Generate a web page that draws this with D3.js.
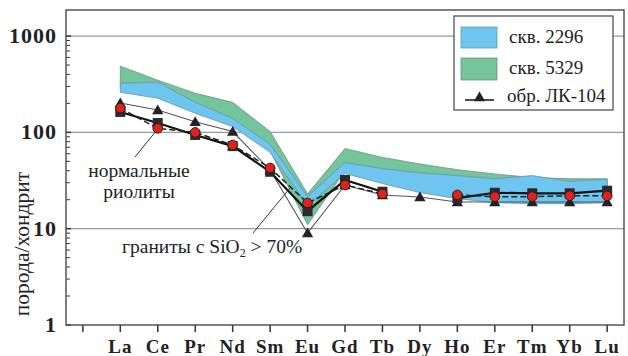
<!DOCTYPE html>
<html lang="ru">
<head>
<meta charset="utf-8">
<title>REE</title>
<script src="https://d3js.org/d3.v7.min.js"></script>
<style>
  body { margin: 0; background: #fff; }
  text { font-family: "Liberation Serif", "Times New Roman", serif; fill: #222; }
  .tick-lbl { font-weight: bold; }
</style>
</head>
<body>
<svg width="628" height="356"></svg>
<script>
// elements (chondrite-normalised)
var elements = ["La","Ce","Pr","Nd","Sm","Eu","Gd","Tb","Dy","Ho","Er","Tm","Yb","Lu"];
var yTicks = [1, 10, 100, 1000];

// bands
var band2296Hi = [324, 333, 205, 140, 75, 21.5, 48.7, 42, 38, 35.6, 33, 35.6, 31, 32.5];
var band2296Lo = [261, 226, 158, 115, 62, 17.4, 37.4, 29.4, 23.7, 20.5, 18.6, 18.2, 18.2, 18.6];
var band5329Hi = [487, 348, 255, 205, 102, 23, 68, 55, 47, 41, 37, 34, 33, 33];
var band5329Lo = [300, 290, 190, 130, 64, 11, 40, 33, 28, 25, 23, 22, 22, 22];

// samples
var lk104   = [202, 171, 129, 102, 40.7, 9, 28.4, 22.4, 21.3, 18.9, 18.9, 18.9, 18.9, 18.9];
var granite = [163, 125, 94, 72, 39, 15.2, 32, 24.2, null, 20.8, 23.6, 23.3, 23.3, 24.8];
var rhyol   = [178, 110, 100, 74, 42.7, 18.5, 28.4, 23, null, 22.4, 21.5, 21.5, 22, 21.9];

var svg = d3.select("svg");
var pLeft = 66, pRight = 624, pTop = 10, pBottom = 325;

var x = d3.scaleLinear().domain([-0.45, 14.45]).range([pLeft, pRight]);
var y = d3.scaleLog().domain([1, 1865]).range([pBottom, pTop]);

// grid
svg.append("g").selectAll("line")
  .data([10, 100, 1000])
  .enter().append("line")
    .attr("x1", pLeft).attr("x2", pRight)
    .attr("y1", d => y(d)).attr("y2", d => y(d))
    .attr("stroke", "#9a9a9a").attr("stroke-width", 1.2);

// minor ticks inside
var minors = [];
[1, 10, 100, 1000].forEach(function (d) {
  for (var k = 2; k <= 9; k++) if (d * k < 1865) minors.push(d * k);
});
svg.append("g").selectAll("line")
  .data(minors)
  .enter().append("line")
    .attr("x1", pLeft).attr("x2", pLeft + 4)
    .attr("y1", d => y(d)).attr("y2", d => y(d))
    .attr("stroke", "#333").attr("stroke-width", 1);
svg.append("g").selectAll("line")
  .data(yTicks)
  .enter().append("line")
    .attr("x1", pLeft).attr("x2", pLeft + 5)
    .attr("y1", d => y(d)).attr("y2", d => y(d))
    .attr("stroke", "#333").attr("stroke-width", 1.5);

// bands
function bandPath(lo, hi) {
  return d3.area()
    .x((d, i) => x(i + 1))
    .y0((d, i) => y(lo[i]))
    .y1((d, i) => y(hi[i]))(elements);
}
svg.append("path")
  .attr("d", bandPath(band5329Lo, band5329Hi))
  .attr("fill", "#74c49c").attr("stroke", "#6f8f80").attr("stroke-width", 0.8);
svg.append("path")
  .attr("d", bandPath(band2296Lo, band2296Hi))
  .attr("fill", "#6ec6f0").attr("stroke", "#6a93a8").attr("stroke-width", 0.8);

// sample lines
var line = d3.line()
  .defined(d => d != null)
  .x((d, i) => x(i + 1))
  .y(d => y(d));

svg.append("path").datum(lk104).attr("d", line)
  .attr("fill", "none").attr("stroke", "#555").attr("stroke-width", 1.1);
svg.append("path").datum(granite).attr("d", line)
  .attr("fill", "none").attr("stroke", "#111").attr("stroke-width", 2.2);
svg.append("path").datum(rhyol).attr("d", line)
  .attr("fill", "none").attr("stroke", "#222").attr("stroke-width", 1.5)
  .attr("stroke-dasharray", "6,3");

// markers
var tri = d3.symbol().type(d3.symbolTriangle).size(55);
svg.append("g").selectAll("path")
  .data(lk104)
  .enter().append("path")
    .attr("d", tri)
    .attr("transform", (d, i) => "translate(" + x(i + 1) + "," + (y(d) + 1) + ")")
    .attr("fill", "#222");

svg.append("g").selectAll("rect")
  .data(granite.map((v, i) => [i, v]).filter(d => d[1] != null))
  .enter().append("rect")
    .attr("x", d => x(d[0] + 1) - 5).attr("y", d => y(d[1]) - 5)
    .attr("width", 10).attr("height", 10)
    .attr("fill", "#2b2b2b");

svg.append("g").selectAll("circle")
  .data(rhyol.map((v, i) => [i, v]).filter(d => d[1] != null))
  .enter().append("circle")
    .attr("cx", d => x(d[0] + 1)).attr("cy", d => y(d[1]))
    .attr("r", 4.8)
    .attr("fill", "#e3211c").attr("stroke", "#222").attr("stroke-width", 1);

// annotations
svg.append("line")
  .attr("x1", 135).attr("y1", 157).attr("x2", x(2) - 2).attr("y2", y(rhyol[1]) + 3)
  .attr("stroke", "#333").attr("stroke-width", 1);
svg.append("text").attr("x", 139).attr("y", 177).attr("text-anchor", "middle")
  .style("font-size", "19.5px").text("нормальные");
svg.append("text").attr("x", 139).attr("y", 198).attr("text-anchor", "middle")
  .style("font-size", "19.5px").text("риолиты");

svg.append("line")
  .attr("x1", 253).attr("y1", 233).attr("x2", 290).attr("y2", 188)
  .attr("stroke", "#333").attr("stroke-width", 1);
var gt = svg.append("text").attr("x", 122).attr("y", 253).style("font-size", "19.5px");
gt.append("tspan").text("граниты с SiO");
gt.append("tspan").attr("dy", 4).style("font-size", "12px").text("2");
gt.append("tspan").attr("dy", -4).text(" > 70%");

// frame
svg.append("rect")
  .attr("x", pLeft).attr("y", pTop)
  .attr("width", pRight - pLeft).attr("height", pBottom - pTop)
  .attr("fill", "none").attr("stroke", "#555").attr("stroke-width", 1.5);

// x axis ticks + labels
svg.append("g").selectAll("line")
  .data(d3.range(0, 15))
  .enter().append("line")
    .attr("x1", d => x(d)).attr("x2", d => x(d))
    .attr("y1", pBottom).attr("y2", pBottom + 7)
    .attr("stroke", "#333").attr("stroke-width", 1.5);
svg.append("g").selectAll("text")
  .data(elements)
  .enter().append("text")
    .attr("class", "tick-lbl")
    .attr("x", (d, i) => x(i + 1))
    .attr("y", 353)
    .attr("text-anchor", "middle")
    .style("font-size", "19px").style("letter-spacing", "1px")
    .text(d => d);

// y labels
svg.append("g").selectAll("text")
  .data(yTicks)
  .enter().append("text")
    .attr("class", "tick-lbl")
    .attr("x", 57).attr("y", d => y(d) + 7)
    .attr("text-anchor", "end")
    .style("font-size", "22px").style("letter-spacing", "1px")
    .text(d => d);

svg.append("text")
  .attr("transform", "translate(29,244) rotate(-90)")
  .attr("text-anchor", "middle")
  .style("font-size", "21.5px")
  .text("порода/хондрит");

// legend
var lg = svg.append("g");
lg.append("rect").attr("x", 454).attr("y", 16).attr("width", 159).attr("height", 94)
  .attr("fill", "#fff").attr("stroke", "#444").attr("stroke-width", 1.2);
lg.append("rect").attr("x", 461).attr("y", 27).attr("width", 36).attr("height", 21)
  .attr("fill", "#6ec6f0").attr("stroke", "#6a93a8").attr("stroke-width", 0.8);
lg.append("rect").attr("x", 461).attr("y", 58).attr("width", 36).attr("height", 22)
  .attr("fill", "#74c49c").attr("stroke", "#6f8f80").attr("stroke-width", 0.8);
lg.append("line").attr("x1", 465).attr("x2", 494).attr("y1", 100).attr("y2", 100)
  .attr("stroke", "#111").attr("stroke-width", 1.5);
lg.append("path").attr("d", tri).attr("transform", "translate(479.5,98)").attr("fill", "#222");
lg.append("text").attr("x", 509).attr("y", 43).style("font-size", "19px").text("скв. 2296");
lg.append("text").attr("x", 509).attr("y", 74).style("font-size", "19px").text("скв. 5329");
lg.append("text").attr("x", 507).attr("y", 102).style("font-size", "19px").text("обр. ЛК-104");
</script>
</body>
</html>
